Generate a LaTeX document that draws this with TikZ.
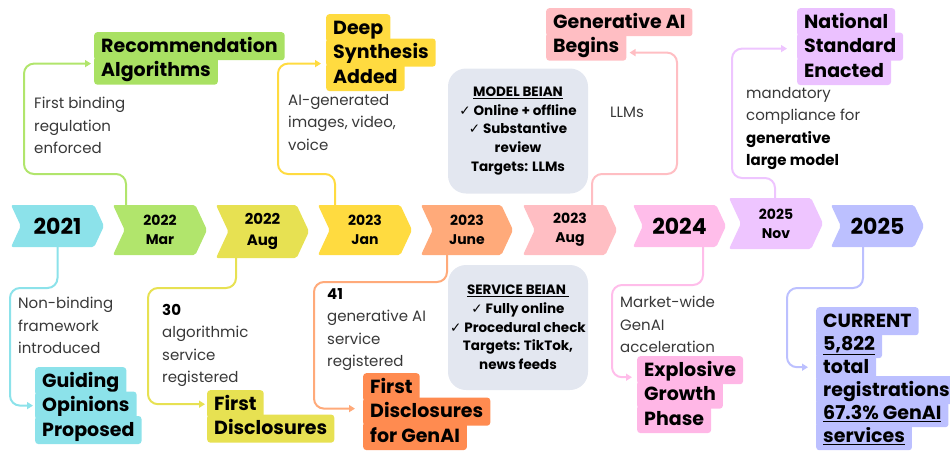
\documentclass[tikz,border=0pt]{standalone}
\usepackage{fontspec}
\setmainfont{Poppins}
\newfontfamily\checkfont{DejaVu Sans}
\usetikzlibrary{positioning, shapes.symbols, arrows.meta}

\definecolor{cCyan}{HTML}{8CE2EA}
\definecolor{cGreen}{HTML}{B1E56C}
\definecolor{cGreenD}{HTML}{A9E163}
\definecolor{cOlive}{HTML}{E7E152}
\definecolor{cYellow}{HTML}{FFDB40}
\definecolor{cOrange}{HTML}{FFAA7A}
\definecolor{cOrangeD}{HTML}{FF8B50}
\definecolor{cPink}{HTML}{FFBEC3}
\definecolor{cPinkB}{HTML}{FFBDEA}
\definecolor{cPinkD}{HTML}{FFB7E6}
\definecolor{cLav}{HTML}{EEC5FF}
\definecolor{cLavD}{HTML}{EBC1FF}
\definecolor{cPeri}{HTML}{BCC0FF}
\definecolor{beiangrey}{HTML}{E3E7F0}

\tikzset{
  datebox/.style={signal, signal to=east, signal from=west, signal pointer angle=130,
    rounded corners=2pt, inner sep=0pt, align=center, font=\bfseries\fontsize{14}{19}\selectfont},
  bigyear/.style={font=\bfseries\fontsize{22}{24}\selectfont},
  hl/.style={anchor=north west, inner xsep=7pt, inner ysep=5pt, text height=15pt, text depth=3pt,
    rounded corners=3pt, font=\bfseries\fontsize{19}{24}\selectfont},
  note/.style={anchor=north west, align=left, inner sep=0pt, text=black!78,
    font=\fontsize{15}{22.5}\selectfont},
  beian/.style={fill=beiangrey, rounded corners=18pt, minimum width=140pt, minimum height=125pt,
    align=center, inner sep=0pt, font=\bfseries\fontsize{13.5}{18.7}\selectfont},
  link/.style={line width=2pt, rounded corners=10pt, -{Triangle[length=6pt,width=7pt]}},
}

\begin{document}
\begin{tikzpicture}[x=1pt, y=-1pt]
\useasboundingbox (0,0) rectangle (950,451);

% timeline
\node[datebox, bigyear, fill=cCyan, minimum width=93pt, minimum height=42pt] (d2021) at (57.5,226) {2021};
\node[datebox, fill=cGreen, minimum width=94pt, minimum height=50pt] (d22mar) at (160,230) {2022\\Mar};
\node[datebox, fill=cOlive, minimum width=93pt, minimum height=53pt, font=\bfseries\fontsize{15}{21}\selectfont] (d22aug) at (262.5,231.5) {2022\\Aug};
\node[datebox, fill=cYellow, minimum width=94pt, minimum height=50pt] (d23jan) at (365,230) {2023\\Jan};
\node[datebox, fill=cOrange, minimum width=92pt, minimum height=50pt] (d23jun) at (467,230) {2023\\June};
\node[datebox, fill=cPink, minimum width=94pt, minimum height=50pt] (d23aug) at (570,230) {2023\\Aug};
\node[datebox, bigyear, fill=cPinkB, minimum width=93pt, minimum height=42pt] (d2024) at (679.5,226) {2024};
\node[datebox, fill=cLav, minimum width=94pt, minimum height=51pt] (d25nov) at (776,223.5) {2025\\Nov};
\node[datebox, bigyear, fill=cPeri, minimum width=93pt, minimum height=42pt] (d2025) at (877.5,226) {2025};

% upper events
\node[hl, fill=cGreenD] (rec1) at (94,32) {Recommendation};
\node[hl, fill=cGreenD] (rec2) at ([yshift=4pt]rec1.south west) {Algorithms};
\node[note] (nrec) at (34,97) {First binding\\regulation\\enforced};

\node[hl, fill=cYellow] (deep1) at (326,14) {Deep};
\node[hl, fill=cYellow] (deep2) at ([yshift=4pt]deep1.south west) {Synthesis};
\node[hl, fill=cYellow] (deep3) at ([yshift=4pt]deep2.south west) {Added};
\node[note] (ndeep) at (288,94) {AI-generated\\images, video,\\voice};

\node[hl, fill=cPink] (gen1) at (546,8) {Generative AI};
\node[hl, fill=cPink] (gen2) at ([yshift=4pt]gen1.south west) {Begins};
\node[note] (ngen) at (610,107) {LLMs};

\node[hl, fill=cLavD] (nat1) at (797,8) {National};
\node[hl, fill=cLavD] (nat2) at ([yshift=4pt]nat1.south west) {Standard};
\node[hl, fill=cLavD] (nat3) at ([yshift=4pt]nat2.south west) {Enacted};
\node[note] (nnat) at (746,87) {mandatory\\compliance for\\\textbf{\color{black}generative}\\\textbf{\color{black}large model}};

% lower events
\node[hl, fill=cCyan] (guid1) at (35,367) {Guiding};
\node[hl, fill=cCyan] (guid2) at ([yshift=4pt]guid1.south west) {Opinions};
\node[hl, fill=cCyan] (guid3) at ([yshift=4pt]guid2.south west) {Proposed};
\node[note] (nguid) at (18,297) {Non-binding\\framework\\introduced};

\node[hl, fill=cOlive] (fdis1) at (207,390) {First};
\node[hl, fill=cOlive] (fdis2) at ([yshift=4pt]fdis1.south west) {Disclosures};
\node[note] (nfdis) at (162,304) {\textbf{\color{black}30}\\algorithmic\\service\\registered};

\node[hl, fill=cOrangeD] (fgen1) at (363,373) {First};
\node[hl, fill=cOrangeD] (fgen2) at ([yshift=4pt]fgen1.south west) {Disclosures};
\node[hl, fill=cOrangeD] (fgen3) at ([yshift=4pt]fgen2.south west) {for GenAI};
\node[note] (nfgen) at (327,288) {\textbf{\color{black}41}\\generative AI\\service\\registered};

\node[hl, fill=cPinkD] (expl1) at (637,356) {Explosive};
\node[hl, fill=cPinkD] (expl2) at ([yshift=4pt]expl1.south west) {Growth};
\node[hl, fill=cPinkD] (expl3) at ([yshift=4pt]expl2.south west) {Phase};
\node[note] (nexpl) at (620,296) {Market-wide\\GenAI\\acceleration};

% bottom line first so the underlines stay visible
\node[hl, fill=cPeri] (curr6) at (816,422) {\underline{services}};
\node[hl, fill=cPeri] (curr5) at (816,399) {\underline{67.3\% GenAI}};
\node[hl, fill=cPeri] (curr4) at (816,376) {registrations};
\node[hl, fill=cPeri] (curr3) at (816,353) {total};
\node[hl, fill=cPeri] (curr2) at (816,330) {\underline{5,822}};
\node[hl, fill=cPeri] (curr1) at (816,307) {CURRENT};

% beian boxes
\node[beian] (model) at (518,131) {\underline{MODEL BEIAN}\\{\checkfont ✓} Online + offline\\{\checkfont ✓} Substantive\\review\\Targets: LLMs};
\node[beian] (service) at (518,327.5) {\underline{SERVICE BEIAN\ }\\{\checkfont ✓} Fully online\\{\checkfont ✓} Procedural check\\Targets: TikTok,\\news feeds};

% connectors up
\draw[link, draw=cGreen] ([xshift=-34pt]d22mar.north) |- (24,174) |- ([xshift=-3pt,yshift=7pt]rec2.west);
\draw[link, draw=cYellow] ([xshift=-30pt]d23jan.north) |- (278,174) |- ([xshift=-5pt,yshift=-11pt]deep2.west);
\draw[link, draw=cPink] ([xshift=22pt]d23aug.north) |- (677,174) |- ([xshift=3pt,yshift=-6pt]gen2.east);
\draw[link, draw=cLav] ([xshift=-1pt]d25nov.north) |- (732,178) |- ([xshift=-10pt,yshift=-2pt]nat2.west);

% connectors down
\draw[link, draw=cCyan] (d2021.south) |- (10,288) |- ([xshift=-2pt]guid2.west);
\draw[link, draw=cOlive] ([xshift=-26.5pt]d22aug.south) |- (148,288) |- ([xshift=-2pt]fdis1.west);
\draw[link, draw=cOrange] ([xshift=-20pt]d23jun.south) |- (314,282) |- ([xshift=-8pt,yshift=3pt]fgen2.west);
\draw[link, draw=cPinkB] ([xshift=23.5pt]d2024.south) |- (612,285) |- ([xshift=-5pt,yshift=-7pt]expl1.west);
\draw[link, draw=cPeri] ([xshift=-14.5pt]d2025.south) |- (787,288) |- ([xshift=-8pt]curr3.west);
\end{tikzpicture}
\end{document}
